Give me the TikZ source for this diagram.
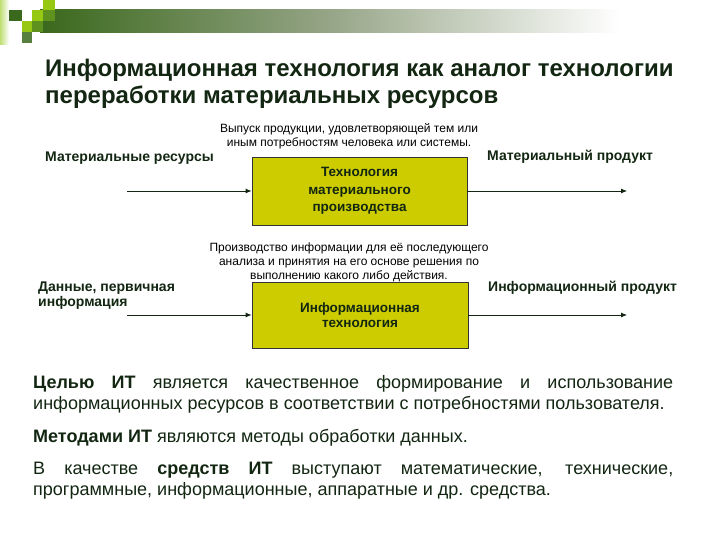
\documentclass[tikz,border=0pt]{standalone}
\usepackage{fontspec}
\setmainfont{Liberation Sans}
\usetikzlibrary{arrows.meta}
\definecolor{txt}{RGB}{18,38,18}
\definecolor{boxfill}{RGB}{204,204,0}
\definecolor{dkgreen}{RGB}{58,104,28}
\definecolor{limeg}{RGB}{150,200,20}
\definecolor{midgreen}{RGB}{95,145,30}
\definecolor{greyg}{RGB}{150,165,135}
\begin{document}
\begin{tikzpicture}[x=1pt,y=-1pt,
  procbox/.style={draw=black!80, line width=0.8pt, fill=boxfill, inner sep=0pt, align=center,
    font=\fontsize{13.5}{17.5}\selectfont\bfseries, text=txt},
  lbl/.style={font=\fontsize{14}{15.5}\selectfont\bfseries, text=txt, inner sep=0pt, align=left},
  note/.style={font=\fontsize{12}{14}\selectfont, text=black, inner sep=0pt, align=center},
  para/.style={font=\fontsize{18}{21}\selectfont, text=txt, inner sep=0pt, text width=640pt, align=justify},
  flow/.style={-{Latex[length=6pt,width=5pt]}, line width=0.8pt, draw=txt}]
\useasboundingbox (0,0) rectangle (720,540);
\fill[white] (0,0) rectangle (720,540);
% header decoration
\shade[left color=limeg!60, right color=white] (0,0) rectangle (9,45);
\shade[left color=dkgreen, right color=greyg] (40,10) rectangle (330,33);
\shade[left color=greyg, right color=white] (330,10) rectangle (620,33);
\fill[dkgreen] (9,10) rectangle (22,21);
\fill[limeg] (43,0) rectangle (55,10);
\fill[limeg] (32,10) rectangle (43,21);
\fill[midgreen] (43,10) rectangle (55,21);
\fill[limeg] (22,21) rectangle (32,32);
\fill[midgreen] (32,21) rectangle (43,32);
\fill[dkgreen!85] (22,32) rectangle (32,43);
% title
\node[anchor=west, inner sep=0pt, align=left, text=txt, font=\fontsize{24}{27}\selectfont\bfseries] (title) at (45,83.5)
  {Информационная технология как аналог технологии\\переработки материальных ресурсов};
% first process
\node[procbox, minimum width=215pt, minimum height=68pt] (box1) at (359.5,191)
  {Технология\\материального\\производства};
\node[note] (note1) at (349,136) {Выпуск продукции, удовлетворяющей тем или\\иным потребностям человека или системы.};
\node[lbl, anchor=west] (in1lbl) at (45,158) {Материальные ресурсы};
\node[lbl, anchor=west] (out1lbl) at (487,157) {Материальный продукт};
\coordinate (in1) at (127,191);
\coordinate (out1) at (627,191);
\draw[flow] (in1) -- (box1.west);
\draw[flow] (box1.east) -- (out1);
% second process
\node[procbox, minimum width=216pt, minimum height=66pt, font=\fontsize{13.5}{15.5}\selectfont\bfseries] (box2) at (360,315)
  {Информационная\\технология};
\node[note] (note2) at (349,262) {Производство информации для её последующего\\анализа и принятия на его основе решения по\\выполнению какого либо действия.};
\node[lbl, anchor=west] (in2lbl) at (38,295.5) {Данные, первичная\\информация};
\node[lbl, anchor=west] (out2lbl) at (488,288) {Информационный продукт};
\coordinate (in2) at (127,315);
\coordinate (out2) at (627,315);
\draw[flow] (in2) -- (box2.west);
\draw[flow] (box2.east) -- (out2);
% paragraphs
\node[para, anchor=west] (p1) at (33,394.5) {\textbf{Целью ИТ} является качественное формирование и использование\linebreak информационных ресурсов в соответствии с потребностями пользователя.};
\node[para, anchor=west] (p2) at (33,438) {\textbf{Методами ИТ} являются методы обработки данных.};
\node[para, anchor=west] (p3) at (33,480.5) {В качестве \textbf{средств ИТ} выступают математические, технические,\linebreak программные, информационные, аппаратные и др. средства.};
\end{tikzpicture}
\end{document}
